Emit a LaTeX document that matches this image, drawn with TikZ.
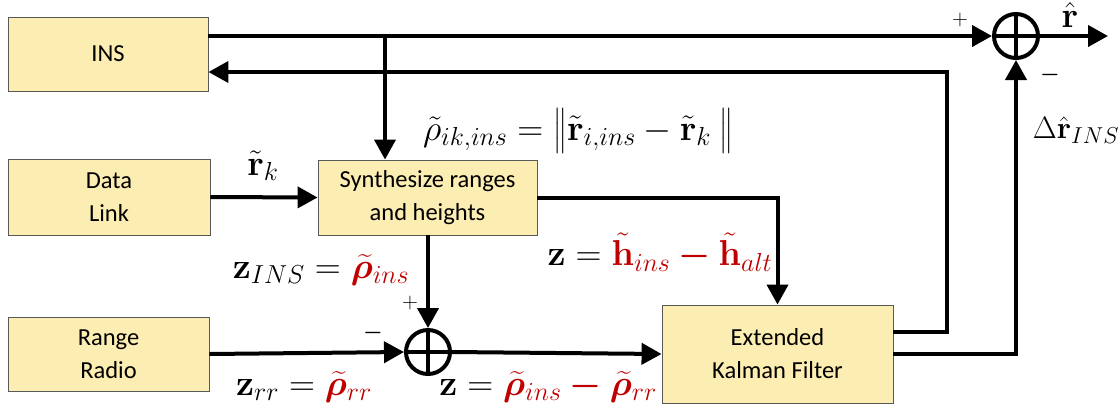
\RequirePackage{fix-cm}
\documentclass[tikz,border=0pt]{standalone}
\usepackage{amsmath}
\usepackage{bm}
\usepackage[no-math]{fontspec}
\setmainfont{Carlito}
\usetikzlibrary{arrows.meta}
\definecolor{boxfill}{HTML}{FCEDB2}
\definecolor{eqred}{HTML}{C00000}
\DeclareMathSizes{36}{36}{26}{20}
\DeclareMathSizes{31}{31}{23}{18}
\begin{document}
\begin{tikzpicture}[x=1pt,y=-1pt,
  blk/.style={draw=black!65,line width=0.9pt,fill=boxfill,font=\fontsize{24.5}{33}\selectfont,align=center,inner sep=0pt},
  conn/.style={line width=4pt,-{Triangle[length=20pt,width=21pt]}},
  lbl/.style={font=\fontsize{36}{40}\selectfont,inner sep=0pt},
  sgn/.style={font=\fontsize{22}{26}\selectfont,inner sep=0pt},
  sumc/.style={circle,draw,line width=4pt,minimum size=44pt,inner sep=0pt}]
\useasboundingbox (0,0) rectangle (1118,408);
% blocks
\node[blk,minimum width=200pt,minimum height=74pt] (ins) at (108,54) {INS};
\node[blk,minimum width=202pt,minimum height=76pt] (dl) at (109,197) {Data\\Link};
\node[blk,minimum width=219pt,minimum height=75pt] (syn) at (427.5,197.5) {Synthesize ranges\\and heights};
\node[blk,minimum width=201pt,minimum height=74pt] (rr) at (108.5,354) {Range\\Radio};
\node[blk,minimum width=231pt,minimum height=98pt] (ekf) at (777.5,354) {Extended\\Kalman Filter};
% summing junctions
\node[sumc] (s1) at (1016,36) {};
\draw[line width=4pt] (s1.north) -- (s1.south) (s1.west) -- (s1.east);
\node[sumc] (s2) at (428,352) {};
\draw[line width=4pt] (s2.north) -- (s2.south) (s2.west) -- (s2.east);
% connectors
\coordinate (tee) at (385,36);
\coordinate (out) at (1108,36);
\draw[conn] (ins.east |- s1.west) -- (s1.west);
\draw[conn] (tee) -- (tee |- syn.north);
\draw[conn] ([yshift=22pt]ekf.east) -- ++(54,0) |- (ins.east |- 0,72);
\draw[conn] (ekf.east) -| (s1.south);
\draw[conn] (s1.east) -- (out);
\draw[conn] (dl.east) -- (syn.west);
\draw[conn] (syn.south -| s2.north) -- (s2.north);
\draw[conn] (syn.east) -| (ekf.north);
\draw[conn] (rr.east) -- (s2.west);
\draw[conn] (s2.east) -- (ekf.west);
% labels
\node[lbl] (lrk) at (263,166) {$\tilde{\mathbf r}_k$};
\node[lbl] (lrho) at (578,131) {$\tilde\rho_{ik,ins} = \big\|\tilde{\mathbf r}_{i,ins} - \tilde{\mathbf r}_k\ \big\|$};
\node[lbl] (lzins) at (321,270) {$\mathbf z_{INS} = \textcolor{eqred}{\widetilde{\bm\rho}_{ins}}$};
\node[lbl] (lzh) at (660,252) {$\mathbf z = \textcolor{eqred}{\tilde{\mathbf h}_{ins} \bm{-} \tilde{\mathbf h}_{alt}}$};
\node[lbl] (lzrr) at (304,387) {$\mathbf z_{rr} = \textcolor{eqred}{\widetilde{\bm\rho}_{rr}}$};
\node[lbl] (lz) at (548,387) {$\mathbf z = \textcolor{eqred}{\widetilde{\bm\rho}_{ins} \bm{-} \widetilde{\bm\rho}_{rr}}$};
\node[lbl] (lrhat) at (1070,15) {$\hat{\mathbf r}$};
\node[lbl,font=\fontsize{31}{36}\selectfont] (ldr) at (1076,130) {$\Delta\hat{\mathbf r}_{INS}$};
% signs
\node[sgn] (p1) at (960,20) {$+$};
\node[sgn] (m1) at (1050,75) {$\bm{-}$};
\node[sgn] (p2) at (410,303) {$+$};
\node[sgn] (m2) at (373,333) {$\bm{-}$};
\end{tikzpicture}
\end{document}
